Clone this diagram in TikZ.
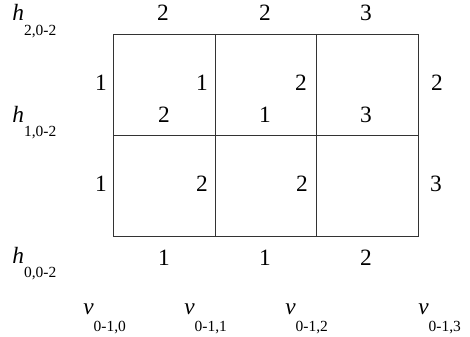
\documentclass[tikz,border=0pt]{standalone}
\usepackage{fontspec}
\setmainfont{Liberation Serif}
\usepackage{tikz}
\usetikzlibrary{positioning}

% variable with a lowered index
\newcommand{\varlbl}[3]{\textit{#1}\raisebox{#3}{\fontsize{8.8}{10}\selectfont #2}}

\begin{document}
\begin{tikzpicture}[x=0.02cm, y=-0.02cm,
  gridline/.style={line width=0.5pt, draw=black!80},
  num/.style={inner sep=0pt, font=\fontsize{13.3}{15}\selectfont},
  var/.style={inner sep=0pt, anchor=base west, font=\fontsize{13.3}{15}\selectfont}
]
  \useasboundingbox (0,0) rectangle (470,337);

  % grid
  \draw[gridline] (113,34) rectangle (418,236);
  \draw[gridline] (113,135) -- (418,135);
  \draw[gridline] (215,34) -- (215,236);
  \draw[gridline] (316,34) -- (316,236);

  % horizontal variables
  \node[var] (h2) at (12,21) {\varlbl{h}{2,0-2}{-8pt}};
  \node[var] (h1) at (12,123) {\varlbl{h}{1,0-2}{-7.5pt}};
  \node[var] (h0) at (12,264) {\varlbl{h}{0,0-2}{-7.5pt}};

  % vertical variables
  \node[var] (v0) at (83,315) {\varlbl{v}{0-1,0}{-9.5pt}};
  \node[var] (v1) at (184,315) {\varlbl{v}{0-1,1}{-9.5pt}};
  \node[var] (v2) at (285,315) {\varlbl{v}{0-1,2}{-9.5pt}};
  \node[var] (v3) at (418,315) {\varlbl{v}{0-1,3}{-9.5pt}};

  % values on top
  \node[num] (t0) at (163,13) {2};
  \node[num] (t1) at (265,13) {2};
  \node[num] (t2) at (366,13) {3};

  % upper row
  \node[num] (a0) at (101,83) {1};
  \node[num] (a1) at (202,83) {1};
  \node[num] (a2) at (301,83) {2};
  \node[num] (a3) at (437,83) {2};
  \node[num] (b0) at (164,115) {2};
  \node[num] (b1) at (265,115) {1};
  \node[num] (b2) at (366,115) {3};

  % lower row
  \node[num] (c0) at (101,184) {1};
  \node[num] (c1) at (202,184) {2};
  \node[num] (c2) at (302,184) {2};
  \node[num] (c3) at (436,184) {3};

  % values at bottom
  \node[num] (d0) at (164,258) {1};
  \node[num] (d1) at (265,258) {1};
  \node[num] (d2) at (366,258) {2};
\end{tikzpicture}
\end{document}
